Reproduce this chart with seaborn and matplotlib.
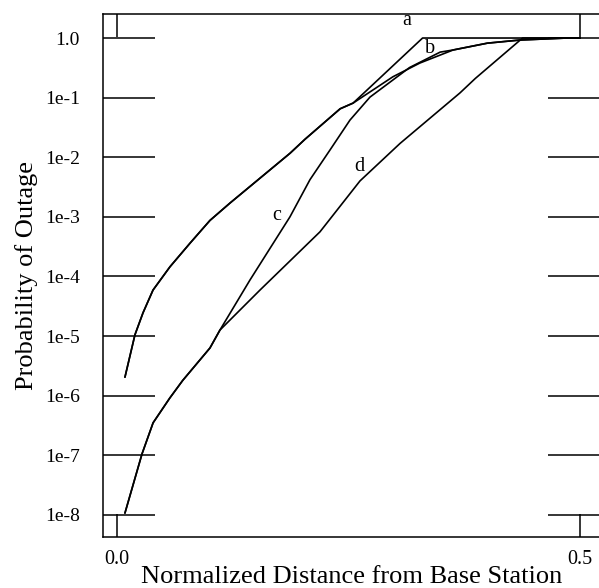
import numpy as np
import pandas as pd
import matplotlib
matplotlib.use('Agg')
import matplotlib.pyplot as plt
import seaborn as sns
from matplotlib.ticker import NullLocator

# %%
# values (x = normalized distance, y = outage probability)
# a and b share the same lower branch, c and d share theirs
a_x = [0.0086, 0.0194, 0.0281, 0.0389, 0.0572, 0.0788, 0.0896, 0.1004, 0.122, 0.187, 0.203, 0.241, 0.255, 0.330, 0.500]
a_y = [2.04e-6, 1.05e-5, 2.45e-5, 5.9e-5, 1.45e-4, 3.6e-4, 5.6e-4, 8.7e-4, 1.7e-3, 1.17e-2, 2.0e-2, 6.5e-2, 8.1e-2, 1.0, 1.0]

b_x = [0.0086, 0.0194, 0.0281, 0.0389, 0.0572, 0.0788, 0.0896, 0.1004, 0.122, 0.187, 0.203, 0.241, 0.255,
       0.298, 0.327, 0.363, 0.400, 0.435, 0.486, 0.500]
b_y = [2.04e-6, 1.05e-5, 2.45e-5, 5.9e-5, 1.45e-4, 3.6e-4, 5.6e-4, 8.7e-4, 1.7e-3, 1.17e-2, 2.0e-2, 6.5e-2, 8.1e-2,
       0.224, 0.38, 0.63, 0.82, 0.925, 1.0, 1.0]

c_x = [0.0086, 0.027, 0.039, 0.057, 0.071, 0.1004, 0.1112, 0.1436, 0.1868, 0.2084, 0.230, 0.2516, 0.2732,
       0.316, 0.349, 0.363, 0.400, 0.435, 0.486, 0.500]
c_y = [1.07e-8, 1.05e-7, 3.5e-7, 9.1e-7, 1.8e-6, 6.3e-6, 1.26e-5, 8.7e-5, 1.0e-3, 4.2e-3, 1.32e-2, 4.2e-2, 0.102,
       0.32, 0.58, 0.63, 0.82, 0.925, 1.0, 1.0]

d_x = [0.0086, 0.027, 0.039, 0.057, 0.071, 0.1004, 0.1112, 0.1544, 0.2192, 0.2624, 0.3056, 0.3704, 0.387, 0.438, 0.500]
d_y = [1.07e-8, 1.05e-7, 3.5e-7, 9.1e-7, 1.8e-6, 6.3e-6, 1.26e-5, 5.9e-5, 5.6e-4, 4.0e-3, 1.7e-2, 0.12, 0.21, 1.0, 1.0]

curve_names = ['a', 'b', 'c', 'd']
label_x = [0.313, 0.338, 0.1728, 0.2613]
label_y = [2.0, 0.68, 1.07e-3, 6.9e-3]

y_ticks = [1.0, 1e-1, 1e-2, 1e-3, 1e-4, 1e-5, 1e-6, 1e-7, 1e-8]
y_ticklabels = ['1.0', '1e-1', '1e-2', '1e-3', '1e-4', '1e-5', '1e-6', '1e-7', '1e-8']
x_ticks = [0.0, 0.5]
x_ticklabels = ['0.0', '0.5']

# %%
sns.set_theme(style='ticks')
plt.rcParams['font.family'] = ['Liberation Serif', 'DejaVu Serif']

fig = plt.figure(figsize=(5.99, 5.88), dpi=100)
ax = fig.add_axes([103/599, 1 - 537/588, 497/599, 523/588])

for xs, ys in [(a_x, a_y), (b_x, b_y), (c_x, c_y), (d_x, d_y)]:
    sns.lineplot(x=xs, y=ys, ax=ax, color='black', linewidth=1.2, estimator=None, sort=False)

for name, lx, ly in zip(curve_names, label_x, label_y):
    ax.text(lx, ly, name, fontsize=14.5, ha='center', va='center', color='black')

ax.set_yscale('log')
ax.set_xlim(-0.0151, 0.5216)
ax.set_ylim(10**-8.372, 10**0.403)
ax.set_yticks(y_ticks)
ax.set_yticklabels(y_ticklabels)
ax.yaxis.set_minor_locator(NullLocator())
ax.set_xticks(x_ticks)
ax.set_xticklabels(x_ticklabels)

ax.tick_params(axis='y', which='major', direction='in', length=37.5, width=1.1,
               left=True, right=True, labelsize=14, pad=16.5, colors='black')
ax.tick_params(axis='x', which='major', direction='in', length=16.5, width=1.1,
               bottom=True, top=True, labelsize=14.5, pad=9, colors='black')

for s in ax.spines.values():
    s.set_color('black')
    s.set_linewidth(1.1)

ax.set_xlabel('Normalized Distance from Base Station', fontsize=19, color='black')
ax.set_ylabel('Probability of Outage', fontsize=19, color='black')
ax.xaxis.set_label_coords(0.5, -0.056)
ax.yaxis.set_label_coords(-0.131, 0.5)

fig.savefig('out.png', dpi=100)
